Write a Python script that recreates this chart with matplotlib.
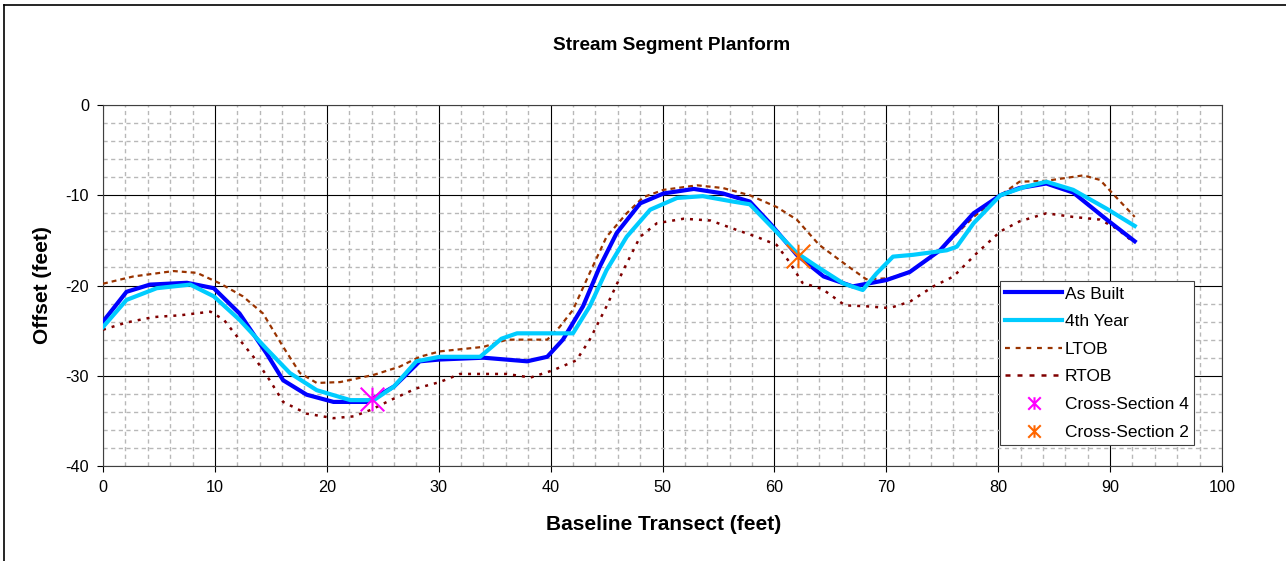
import numpy as np
import matplotlib.pyplot as plt
from matplotlib.path import Path
from matplotlib.lines import Line2D

plt.rcParams['font.family'] = ['Liberation Sans', 'DejaVu Sans']
plt.rcParams['axes.unicode_minus'] = False

# As Built
ab_x = [0, 2.1, 4.2, 7.5, 9.9, 12.2, 14.6, 16.1, 18.2, 20.6, 23.6, 26.0, 28.3, 30.1, 34.0, 37.9,
        39.7, 41.1, 42.9, 44.4, 45.9, 48.0, 50.1, 52.8, 55.4, 57.8, 59.6, 62.0, 64.4, 67.0, 70.0,
        72.1, 74.8, 77.8, 80.2, 81.9, 84.3, 86.7, 89.7, 92.2]
ab_y = [-24.0, -20.7, -19.9, -19.7, -20.3, -23.1, -27.5, -30.5, -32.1, -32.9, -32.9, -31.2, -28.4,
        -28.2, -28.0, -28.4, -27.9, -26.0, -22.3, -17.9, -14.2, -10.9, -9.8, -9.3, -9.8, -10.7,
        -13.1, -16.6, -19.0, -20.1, -19.4, -18.5, -16.1, -12.0, -10.0, -9.2, -8.7, -9.7, -12.7, -15.1]

# 4th Year
y4_x = [0, 2.1, 4.8, 7.8, 9.9, 12.2, 14.6, 16.7, 19.1, 22.1, 24.2, 26.0, 28.0, 30.1, 33.7, 35.6,
        37.0, 40.8, 42.0, 43.5, 45.0, 46.8, 48.9, 51.3, 53.6, 56.3, 57.8, 59.6, 62.0, 63.8, 66.2,
        67.9, 69.1, 70.6, 72.4, 75.4, 76.3, 77.8, 80.2, 82.3, 84.3, 86.7, 89.7, 92.2]
y4_y = [-24.6, -21.6, -20.3, -19.9, -21.2, -23.8, -27.0, -29.7, -31.6, -32.7, -32.7, -31.2, -28.4,
        -27.9, -27.9, -25.9, -25.3, -25.3, -25.3, -22.3, -18.3, -14.6, -11.6, -10.3, -10.1, -10.7,
        -11.0, -13.3, -16.4, -17.9, -19.8, -20.5, -18.7, -16.8, -16.6, -16.1, -15.7, -13.1, -10.0,
        -9.1, -8.5, -9.4, -11.5, -13.4]

# LTOB
lt_x = [0, 2.7, 6.3, 8.4, 10.5, 12.5, 14.3, 16.1, 17.6, 19.1, 21.2, 24.2, 26.5, 28.3, 30.1, 34.0,
        36.1, 39.7, 40.8, 42.0, 43.5, 45.0, 46.8, 48.3, 50.1, 53.1, 55.4, 57.8, 60.2, 62.0, 64.0,
        66.5, 68.2, 70.3, 72.4, 74.8, 77.8, 80.2, 81.9, 84.3, 87.6, 89.1, 90.6, 92.2]
lt_y = [-19.8, -19.0, -18.4, -18.6, -19.8, -21.2, -23.1, -26.8, -29.7, -30.8, -30.7, -29.9, -29.0,
        -27.9, -27.3, -26.8, -26.0, -26.0, -24.6, -22.7, -18.6, -14.6, -12.0, -10.2, -9.4, -8.9,
        -9.2, -10.0, -11.3, -12.7, -15.5, -17.8, -19.3, -19.2, -18.3, -16.1, -12.4, -10.0, -8.5,
        -8.4, -7.8, -8.3, -10.3, -12.4]

# RTOB
rt_x = [0, 2.1, 4.5, 6.9, 9.6, 10.8, 12.2, 13.7, 14.9, 16.1, 18.2, 20.6, 22.4, 23.9, 25.7, 28.0,
        30.1, 31.9, 36.1, 38.2, 40.2, 42.3, 43.5, 45.0, 46.5, 48.0, 49.5, 51.9, 54.3, 56.3, 58.4,
        60.2, 61.4, 62.5, 64.3, 66.3, 68.2, 70.3, 72.1, 74.2, 76.0, 78.1, 80.2, 81.9, 84.3, 86.7,
        89.1, 90.6, 92.2]
rt_y = [-24.9, -24.1, -23.5, -23.3, -22.9, -23.8, -26.0, -28.3, -30.5, -32.9, -34.2, -34.7, -34.5,
        -33.8, -32.7, -31.4, -30.7, -29.8, -29.8, -30.2, -29.4, -28.3, -26.0, -22.3, -18.3, -14.6,
        -13.1, -12.6, -12.8, -13.7, -14.6, -15.5, -17.5, -19.7, -20.4, -22.2, -22.3, -22.5, -21.8,
        -20.1, -19.0, -16.4, -14.0, -12.9, -12.0, -12.4, -12.7, -13.7, -15.3]

# cross sections
xs4_x, xs4_y = [24.0], [-32.6]
xs2_x, xs2_y = [62.1], [-16.7]

# Excel style asterisk: vertical line plus an X
star = Path([(0, -1), (0, 1), (-1, -1), (1, 1), (-1, 1), (1, -1)],
            [Path.MOVETO, Path.LINETO, Path.MOVETO, Path.LINETO, Path.MOVETO, Path.LINETO])

fig = plt.figure(figsize=(12.86, 5.61), dpi=100)
ax = fig.add_axes([103/1286, 1 - 466/561, 1119/1286, 361/561])

l_lt, = ax.plot(lt_x, lt_y, color='#993300', lw=1.6, linestyle=(0, (2.2, 1.8)), zorder=3)
l_rt, = ax.plot(rt_x, rt_y, color='#800000', lw=1.8, linestyle=(0, (1.2, 2.4)), zorder=3)
l_ab, = ax.plot(ab_x, ab_y, color='#0000FF', lw=3, zorder=4)
l_y4, = ax.plot(y4_x, y4_y, color='#00CCFF', lw=3, zorder=5)
ax.plot(xs4_x, xs4_y, linestyle='none', marker=star, ms=17, mew=1.5, color='#FF00FF', zorder=6)
ax.plot(xs2_x, xs2_y, linestyle='none', marker=star, ms=17, mew=1.5, color='#FF6600', zorder=6)

ax.set_xlim(0, 100)
ax.set_ylim(-40, 0)
ax.set_xticks(np.arange(0, 101, 10))
ax.set_yticks(np.arange(-40, 1, 10))
ax.set_xticks(np.arange(0, 101, 2), minor=True)
ax.set_yticks(np.arange(-40, 1, 2), minor=True)
ax.grid(which='minor', color='#B8B8B8', linestyle=(0, (3, 2.5)), linewidth=1)
ax.grid(which='major', color='black', linestyle='-', linewidth=0.8)
ax.set_axisbelow(True)
ax.tick_params(which='major', direction='out', length=4, width=0.8, labelsize=11.7, pad=6)
ax.tick_params(which='minor', length=0)
for s in ax.spines.values():
    s.set_color('#404040')
    s.set_linewidth(0.8)

# legend handles (smaller markers than in the plot)
h_xs4 = Line2D([], [], linestyle='none', marker=star, ms=9, mew=1.5, color='#FF00FF')
h_xs2 = Line2D([], [], linestyle='none', marker=star, ms=9, mew=1.5, color='#FF6600')
h_lt = Line2D([], [], color='#993300', lw=1.6, linestyle=(0, (2.2, 2.6)))
h_rt = Line2D([], [], color='#800000', lw=1.8, linestyle=(0, (2.0, 2.8)))
leg = ax.legend([l_ab, l_y4, h_lt, h_rt, h_xs4, h_xs2],
                ['As Built', '4th Year', 'LTOB', 'RTOB', 'Cross-Section 4', 'Cross-Section 2'],
                loc='upper left', bbox_to_anchor=(0.8016, 0.512), fontsize=12.5,
                frameon=True, fancybox=False, edgecolor='#404040', framealpha=1,
                handlelength=3.3, handletextpad=0.15, labelspacing=0.72,
                borderpad=0.3, borderaxespad=0)
leg.get_frame().set_linewidth(0.8)

fig.text(672/1286, 1 - 45/561, 'Stream Segment Planform', ha='center', va='center',
         fontsize=13.7, fontweight='bold')
fig.text(664/1286, 1 - 525/561, 'Baseline Transect (feet)', ha='center', va='center',
         fontsize=15, fontweight='bold')
fig.text(42/1286, 1 - 285/561, 'Offset (feet)', ha='center', va='center', rotation=90,
         fontsize=15, fontweight='bold')

# outer chart border
fig.add_artist(Line2D([4/1286, 4/1286], [0, 1 - 5/561], color='black', lw=1.2,
                      transform=fig.transFigure))
fig.add_artist(Line2D([4/1286, 1], [1 - 5/561, 1 - 5/561], color='black', lw=1.2,
                      transform=fig.transFigure))

fig.savefig('out.png', dpi=100)
